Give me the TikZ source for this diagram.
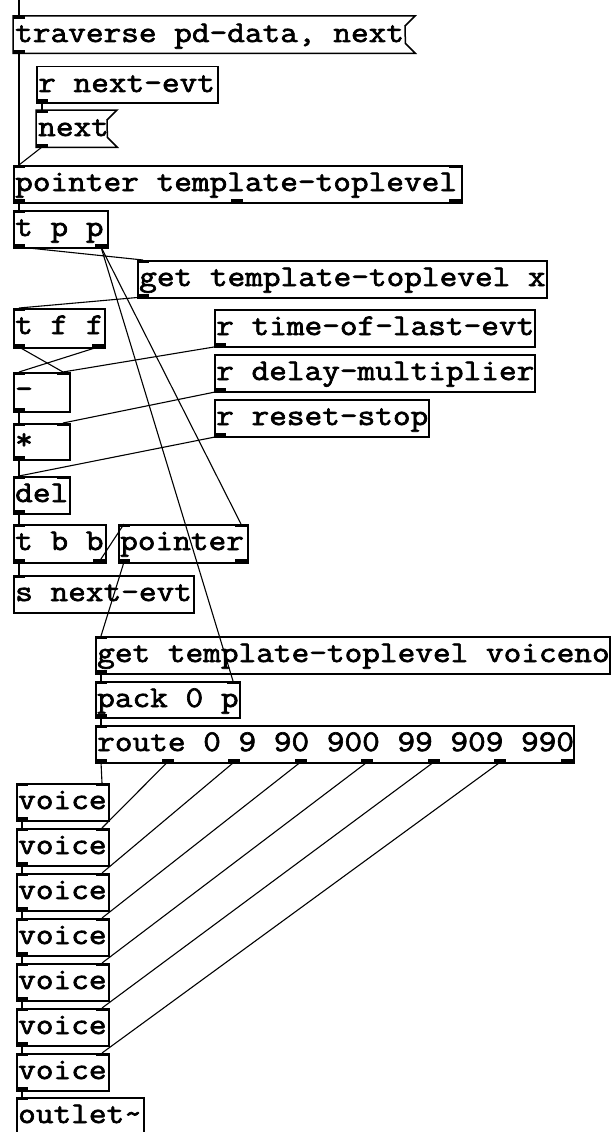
\documentclass[tikz,border=0pt]{standalone}
\usepackage{fontspec}
\newfontfamily\pdfont[FakeStretch=1.14,FakeBold=2.2]{Latin Modern Mono}
\usetikzlibrary{calc}
\tikzset{
  pdframe/.style={draw=black, line width=1.5pt},
  pdtext/.style={font=\pdfont\fontsize{30.1}{32}\selectfont, inner sep=0pt, anchor=base west},
  conn/.style={line width=1.1pt},
  sig/.style={line width=2pt},
  iolet/.style={fill=black},
}
\newcommand\pdiolets[7]{%
  \ifnum#6>0
    \foreach \i in {1,...,#6}{
      \pgfmathsetmacro\ix{#2+(#4-#2-12)*(\i-1)/max(#6-1,1)}
      \fill[iolet] (\ix,#3) rectangle ++(12,3);
      \coordinate (#1-i\i) at (\ix+6,#3);
    }
  \fi
  \ifnum#7>0
    \foreach \i in {1,...,#7}{
      \pgfmathsetmacro\ix{#2+(#4-#2-12)*(\i-1)/max(#7-1,1)}
      \fill[iolet] (\ix,#5) rectangle ++(12,-3);
      \coordinate (#1-o\i) at (\ix+6,#5);
    }
  \fi
}
\newcommand\pdbox[8]{%
  \node[pdframe, anchor=north west, inner sep=0pt, minimum width={#4-#2}, minimum height={#5-#3}] (#1) at (#2,#3) {};
  \node[pdtext] (#1-txt) at (#2+2,#3+26) {#6};
  \pdiolets{#1}{#2}{#3}{#4}{#5}{#7}{#8}
}
\newcommand\pdmsg[6]{%
  \node[anchor=north west, inner sep=0pt, minimum width={#4-#2}, minimum height={#5-#3}] (#1) at (#2,#3) {};
  \draw[pdframe] (#1.north west) -- ++(#4-#2+10,0) -- ++(-10,10) -- ($(#1.south east)+(0,-10)$) -- ++(10,10) -- (#1.south west) -- cycle;
  \node[pdtext] (#1-txt) at (#2+2,#3+26) {#6};
  \pdiolets{#1}{#2}{#3}{#4}{#5}{1}{1}
}
\begin{document}
\begin{tikzpicture}[x=1pt,y=-1pt]
\useasboundingbox[fill=white] (0,0) rectangle (613,1132);
\pdmsg{trav}{13}{16}{405}{53}{traverse pd-data, next}
\pdbox{rnext}{36}{66}{217}{102}{r next-evt}{0}{1}
\pdmsg{next}{36}{110}{107}{147}{next}
\pdbox{ptt}{13}{165}{461}{202}{pointer template-toplevel}{2}{3}
\pdbox{tpp}{13}{210}{107}{247}{t p p}{1}{2}
\pdbox{getx}{137}{260}{546}{297}{get template-toplevel x}{1}{1}
\pdbox{tff}{13}{308}{104}{347}{t f f}{1}{2}
\pdbox{rtime}{214}{309}{534}{346}{r time-of-last-evt}{0}{1}
\pdbox{rdel}{214}{354}{534}{391}{r delay-multiplier}{0}{1}
\pdbox{rreset}{214}{399}{428}{436}{r reset-stop}{0}{1}
\pdbox{minus}{13}{372}{69}{411}{-}{2}{1}
\pdbox{times}{13}{423}{69}{459}{*}{2}{1}
\pdbox{del}{13}{476}{69}{513}{del}{2}{1}
\pdbox{tbb}{13}{524}{105}{562}{t b b}{1}{2}
\pdbox{ptr}{118}{524}{247}{562}{pointer}{2}{2}
\pdbox{snext}{13}{575}{193}{612}{s next-evt}{1}{0}
\pdbox{getv}{95}{636}{609}{673}{get template-toplevel voiceno}{1}{1}
\pdbox{pack}{95}{681}{239}{717}{pack 0 p}{2}{1}
\pdbox{route}{95}{725}{573}{762}{route 0 9 90 900 99 909 990}{1}{8}
\foreach \k in {1,...,7}{
  \pgfmathsetmacro\vt{783+45*(\k-1)}
  \pdbox{v\k}{16}{\vt}{108}{\vt+37}{voice}{2}{1}
}
\pdbox{out}{16}{1097}{143}{1134}{outlet\textasciitilde}{1}{0}
\coordinate (top) at (19,0);
\draw[conn] (top) -- (trav-i1);
\draw[conn] (trav-o1) -- (ptt-i1);
\draw[conn] (rnext-o1) -- (next-i1);
\draw[conn] (next-o1) -- (ptt-i1);
\draw[conn] (ptt-o1) -- (tpp-i1);
\draw[conn] (tpp-o1) -- (getx-i1);
\draw[conn] (tpp-o2) -- (ptr-i2);
\draw[conn] (tpp-o2) -- (pack-i2);
\draw[conn] (getx-o1) -- (tff-i1);
\draw[conn] (tff-o1) -- (minus-i2);
\draw[conn] (tff-o2) -- (minus-i1);
\draw[conn] (rtime-o1) -- (minus-i2);
\draw[conn] (minus-o1) -- (times-i1);
\draw[conn] (rdel-o1) -- (times-i2);
\draw[conn] (times-o1) -- (del-i1);
\draw[conn] (rreset-o1) -- (del-i1);
\draw[conn] (del-o1) -- (tbb-i1);
\draw[conn] (tbb-o1) -- (snext-i1);
\draw[conn] (tbb-o2) -- (ptr-i1);
\draw[conn] (ptr-o1) -- (getv-i1);
\draw[conn] (getv-o1) -- (pack-i1);
\draw[conn] (pack-o1) -- (route-i1);
\foreach \k in {1,...,7}{
  \draw[conn] (route-o\k) -- (v\k-i2);
}
\foreach \k [evaluate=\k as \n using int(\k+1)] in {1,...,6}{
  \draw[sig] (v\k-o1) -- (v\n-i1);
}
\draw[sig] (v7-o1) -- (out-i1);
\end{tikzpicture}
\end{document}
